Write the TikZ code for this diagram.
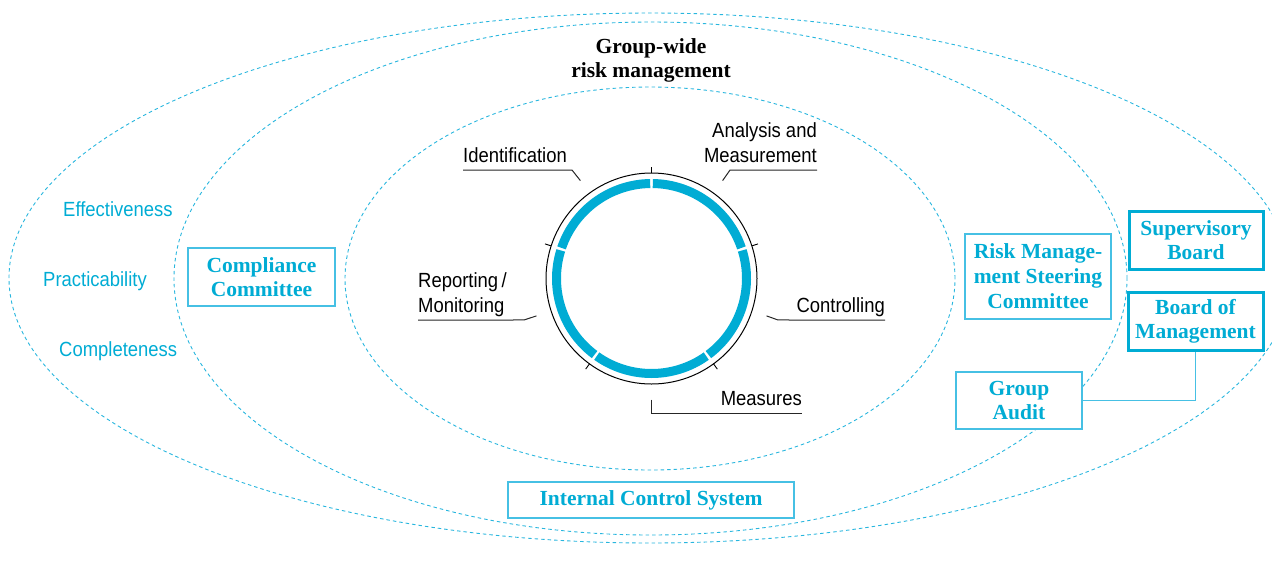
\documentclass[tikz,border=0pt]{standalone}
\usepackage{fontspec}
\setmainfont{Liberation Serif}
\newfontfamily\condsans[FakeStretch=0.9]{Liberation Sans}
\definecolor{cy}{RGB}{0,172,212}
\definecolor{cyl}{RGB}{70,192,228}
\definecolor{cyd}{RGB}{40,182,222}
\begin{document}
\begin{tikzpicture}[x=1pt,y=1pt,
  ell/.style={draw=cyd, line width=0.9pt, dash pattern=on 3.5pt off 3pt},
  lbl/.style={inner sep=0pt, font=\condsans\fontsize{20.5}{25}\selectfont},
  bluelbl/.style={lbl, text=cy},
  leader/.style={draw=black!85, line width=1pt},
  boxthin/.style={draw=cyl, fill=white, line width=1.5pt, text=cy, font=\bfseries\fontsize{21.5}{24}\selectfont, align=center, inner sep=0pt},
  boxthick/.style={boxthin, draw=cy, line width=3pt},
  ringseg/.style={draw=cy, line width=9pt},
  tickmark/.style={draw=black, line width=0.9pt}]

\useasboundingbox (0,0) rectangle (1272,-574);

% dashed ellipses
\begin{scope}
  \clip (0,0) rectangle (1272,-574);
  \draw[ell] (650,-278) ellipse [x radius=641pt, y radius=265pt];
  \draw[ell] (650.5,-278.5) ellipse [x radius=476.5pt, y radius=256.5pt];
  \draw[ell] (650,-278.5) ellipse [x radius=305pt, y radius=191.5pt];
\end{scope}

% title
\node[inner sep=0pt, anchor=base, font=\bfseries\fontsize{21.5}{24}\selectfont] (title) at (651,-77)
  {\begin{tabular}[b]{@{}c@{}}Group-wide\\risk management\end{tabular}};

% cycle
\coordinate (c) at (651.5,-278.5);
\node[circle, draw=black, line width=1pt, minimum size=211pt, inner sep=0pt] (cyc) at (c) {};
\foreach \a in {18,90,162,234,306} {
  \draw[ringseg] ([shift={(\a+0.8:95pt)}]c) arc[start angle=\a+0.8, end angle=\a+71.2, radius=95pt];
  \draw[tickmark] ([shift={(\a:105.5pt)}]c) -- ([shift={(\a:112pt)}]c);
}

% cycle labels
\node[lbl, anchor=base west] (ident) at (463,-162) {Identification};
\node[lbl, anchor=base east] (anal) at (817,-162)
  {\begin{tabular}[b]{@{}r@{}}Analysis and\\Measurement\end{tabular}};
\node[lbl, anchor=base east] (ctrl) at (885,-312) {Controlling};
\node[lbl, anchor=base east] (meas) at (802,-405) {Measures};
\node[lbl, anchor=base west] (rep) at (418,-312)
  {\begin{tabular}[b]{@{}l@{}}Reporting\,/\\Monitoring\end{tabular}};

\coordinate (pId) at ([shift={(126:121pt)}]c);
\coordinate (pAn) at ([shift={(54:121pt)}]c);
\coordinate (pCo) at ([shift={(-18:121pt)}]c);
\coordinate (pMe) at ([shift={(-90:121pt)}]c);
\coordinate (pRe) at ([shift={(198:121pt)}]c);

\draw[leader] (pId) -- ++(-8.4,10.6) -- ([yshift=-8pt]ident.base west);
\draw[leader] (pAn) -- ++(7.4,10.6) -- ([yshift=-8pt]anal.base east);
\draw[leader] (pCo) -- ++(11.4,-4.1) -- ([yshift=-8pt]ctrl.base east);
\draw[leader] (pMe) -- ++(0,-13.5) -- ([yshift=-8pt]meas.base east);
\draw[leader] (pRe) -- ++(-12.4,-4.1) -- ([yshift=-8pt]rep.base west);

% blue principle labels
\node[bluelbl, anchor=base west] (eff) at (63,-216.5) {Effectiveness};
\node[bluelbl, anchor=base west] (prac) at (43,-286.5) {Practicability};
\node[bluelbl, anchor=base west] (comp) at (59,-356) {Completeness};

% boxes
\node[boxthin, minimum width=147pt, minimum height=58pt] (cc) at (261.5,-277) {Compliance\\Committee};
\node[boxthin, minimum width=146pt, minimum height=85pt, font=\bfseries\fontsize{21.5}{25}\selectfont] (rmsc) at (1038,-276.5) {Risk Manage-\\ment Steering\\Committee};
\node[boxthick, minimum width=134pt, minimum height=58pt] (sb) at (1196,-240) {Supervisory\\Board};
\node[boxthick, minimum width=135pt, minimum height=58pt] (bom) at (1195.5,-321) {Board of\\Management};
\node[boxthin, line width=2pt, minimum width=126pt, minimum height=57pt] (ga) at (1019,-400.5) {Group\\Audit};
\node[boxthin, minimum width=286pt, minimum height=36pt] (ics) at (651,-500) {Internal Control System};

\draw[draw=cyl, line width=1.5pt] (bom.south) |- (ga.east);
\end{tikzpicture}
\end{document}
